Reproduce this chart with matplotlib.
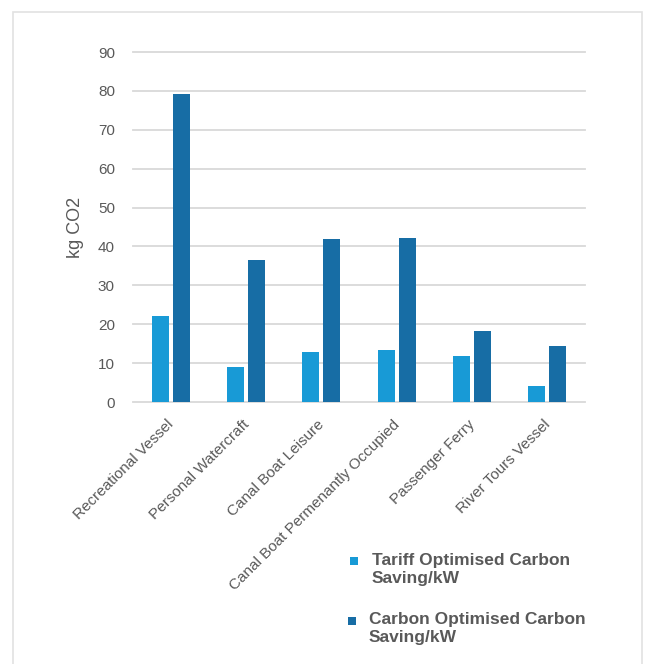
import matplotlib
matplotlib.use("Agg")
import matplotlib.pyplot as plt
import matplotlib.transforms as mtransforms
from matplotlib.patches import Rectangle
import numpy as np

plt.rcParams['font.family'] = ['Liberation Sans', 'DejaVu Sans']

categories = ["Recreational Vessel", "Personal Watercraft", "Canal Boat Leisure",
              "Canal Boat Permenantly Occupied", "Passenger Ferry", "River Tours Vessel"]
tariff_saving = [22.2, 9.0, 12.9, 13.4, 11.9, 4.1]
carbon_saving = [79.3, 36.5, 41.9, 42.3, 18.3, 14.4]
series_labels = ["Tariff Optimised Carbon\nSaving/kW", "Carbon Optimised Carbon\nSaving/kW"]
y_ticks = [0, 10, 20, 30, 40, 50, 60, 70, 80, 90]

LIGHT = "#189ad6"
DARK = "#176da5"
TEXT = "#595959"
GRID = "#d9d9d9"

W, H = 646, 664
fig = plt.figure(figsize=(W / 100, H / 100), dpi=100)
fig.patch.set_facecolor("white")

# card outline
card = Rectangle((13 / W, -0.05), (642 - 13) / W, 1.05 - 12 / H, transform=fig.transFigure,
                 facecolor="white", edgecolor="#e2e2e2", linewidth=1.2, zorder=-5)
fig.patches.append(card)

ax = fig.add_axes([133 / W, 1 - 402 / H, (585 - 133) / W, (402 - 52) / H])
ax.set_facecolor("none")
ax.set_zorder(2)

x = np.arange(len(categories))
bw = 0.228
off = 0.14
ax.bar(x - off, tariff_saving, width=bw, color=LIGHT, zorder=3)
ax.bar(x + off, carbon_saving, width=bw, color=DARK, zorder=3)

ax.set_xlim(-0.5, len(categories) - 0.5)
ax.set_ylim(0, 90)
ax.set_yticks(y_ticks)
ax.set_yticklabels([str(v) for v in y_ticks], fontsize=11, color=TEXT)
for v in y_ticks:
    ax.axhline(v, color=GRID, linewidth=1.3, zorder=1, clip_on=False)

for s in ax.spines.values():
    s.set_visible(False)
ax.tick_params(axis='y', length=0, pad=13)
ax.tick_params(axis='x', length=0, pad=11)

ax.set_xticks(x)
ax.set_xticklabels(categories, rotation=45, ha='right', rotation_mode='anchor',
                   fontsize=11, color=TEXT)
shift = mtransforms.ScaledTranslation(-4 / 100, 0, fig.dpi_scale_trans)
for lbl in ax.get_xticklabels():
    lbl.set_transform(lbl.get_transform() + shift)
ax.set_ylabel("kg CO2", fontsize=13, color=TEXT, labelpad=10)

# legend
entries = [
    (LIGHT, 350, 557, 372, 566, series_labels[0]),
    (DARK, 348, 617, 369, 625, series_labels[1]),
]
for color, mx, my, tx, ty, label in entries:
    fig.patches.append(Rectangle((mx / W, 1 - (my + 8) / H), 8 / W, 8 / H,
                                 transform=fig.transFigure, facecolor=color,
                                 edgecolor="none", zorder=5))
    fig.text(tx / W, 1 - (ty - 13) / H, label, fontsize=12.5, fontweight='bold',
             color=TEXT, ha='left', va='top', linespacing=1.25)

fig.savefig("out.png", dpi=100)
